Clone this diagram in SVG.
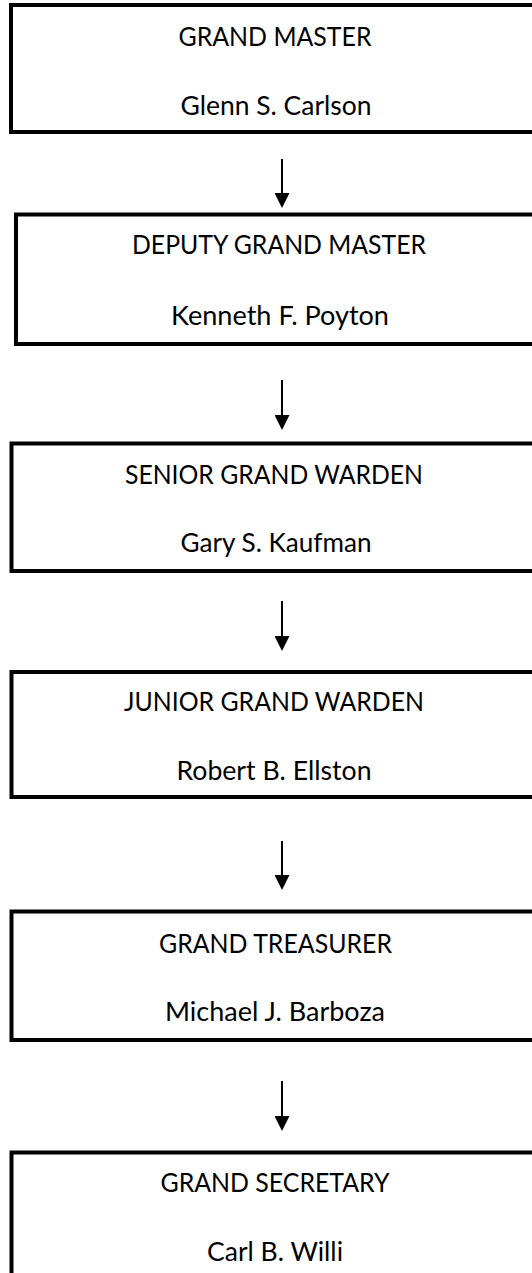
<svg xmlns="http://www.w3.org/2000/svg" width="532" height="1273" viewBox="0 0 532 1273">
<defs>
<style>
.box{fill:#fff;stroke:#000;stroke-width:4}
.t{font-family:Lato,"Open Sans","Liberation Sans",sans-serif;font-size:26.5px;fill:#000;text-anchor:middle}
.c{stroke:#000;stroke-width:2;fill:none}
</style>
<marker id="ah" viewBox="0 0 15 15" refX="0" refY="7.5" markerWidth="15" markerHeight="15" markerUnits="userSpaceOnUse" orient="auto">
<path d="M0,0 L15,7.5 L0,15 z" fill="#000"/>
</marker>
</defs>
<rect width="532" height="1273" fill="#fff"/>
<g id="n1"><rect class="box" x="11" y="5" width="540" height="127"/><text class="t" x="275" y="46" textLength="193" lengthAdjust="spacingAndGlyphs">GRAND MASTER</text><text class="t" x="276" y="115" textLength="191" lengthAdjust="spacingAndGlyphs">Glenn S. Carlson</text></g>
<g id="n2"><rect class="box" x="16" y="214.5" width="540" height="129.5"/><text class="t" x="279" y="254" textLength="294" lengthAdjust="spacingAndGlyphs">DEPUTY GRAND MASTER</text><text class="t" x="280" y="325" textLength="218" lengthAdjust="spacingAndGlyphs">Kenneth F. Poyton</text></g>
<g id="n3"><rect class="box" x="11.5" y="443.5" width="540" height="127.5"/><text class="t" x="274" y="484" textLength="298" lengthAdjust="spacingAndGlyphs">SENIOR GRAND WARDEN</text><text class="t" x="276" y="552" textLength="191" lengthAdjust="spacingAndGlyphs">Gary S. Kaufman</text></g>
<g id="n4"><rect class="box" x="11.5" y="672" width="540" height="125"/><text class="t" x="274" y="711" textLength="300" lengthAdjust="spacingAndGlyphs">JUNIOR GRAND WARDEN</text><text class="t" x="274" y="780" textLength="195" lengthAdjust="spacingAndGlyphs">Robert B. Ellston</text></g>
<g id="n5"><rect class="box" x="11.5" y="911.5" width="540" height="128.5"/><text class="t" x="275.5" y="953" textLength="233" lengthAdjust="spacingAndGlyphs">GRAND TREASURER</text><text class="t" x="275" y="1021" textLength="220" lengthAdjust="spacingAndGlyphs">Michael J. Barboza</text></g>
<g id="n6"><rect class="box" x="11.5" y="1152.5" width="540" height="200"/><text class="t" x="275" y="1192" textLength="229" lengthAdjust="spacingAndGlyphs">GRAND SECRETARY</text><text class="t" x="275" y="1261" textLength="136" lengthAdjust="spacingAndGlyphs">Carl B. Willi</text></g>
<g id="connectors">
<line class="c" x1="282" y1="159" x2="282" y2="193" marker-end="url(#ah)"/>
<line class="c" x1="282" y1="380" x2="282" y2="415" marker-end="url(#ah)"/>
<line class="c" x1="282" y1="601" x2="282" y2="636" marker-end="url(#ah)"/>
<line class="c" x1="282" y1="841" x2="282" y2="875" marker-end="url(#ah)"/>
<line class="c" x1="282" y1="1081" x2="282" y2="1116" marker-end="url(#ah)"/>
</g>
</svg>
